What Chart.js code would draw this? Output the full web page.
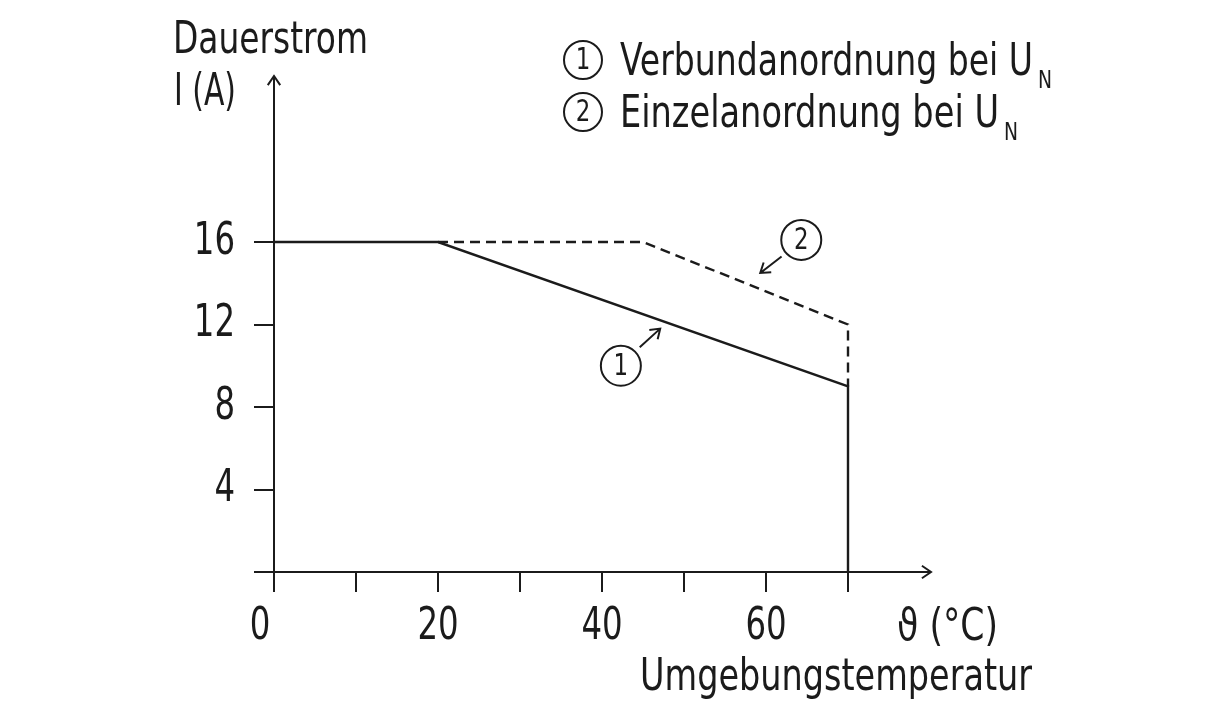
<!DOCTYPE html>
<html>
<head>
<meta charset="utf-8">
<script src="https://cdn.jsdelivr.net/npm/chart.js@4/dist/chart.umd.min.js"></script>
<style>
  html, body { margin: 0; padding: 0; background: #fff; }
  #wrap { width: 1214px; height: 720px; }
</style>
</head>
<body>
<div id="wrap"><canvas id="kennlinie" width="1214" height="720"></canvas></div>
<script>
/* Dauerstrom über Umgebungstemperatur */
const temp_verbund = [0, 20, 70, 70];
const strom_verbund = [16, 16, 9, 0];

const temp_einzel = [20, 45, 70, 70];
const strom_einzel = [16, 16, 12, 9];

const ticks_x = [0, 10, 20, 30, 40, 50, 60, 70];
const labels_x = ['0', '', '20', '', '40', '', '60', ''];
const ticks_y = [0, 4, 8, 12, 16];
const labels_y = ['', '4', '8', '12', '16'];

const legende = ['Verbundanordnung bei U', 'Einzelanordnung bei U'];

const SCHRIFT = '"DejaVu Sans Condensed", "DejaVu Sans", sans-serif';
const TINTE = '#1b1b1b';

function punkte(xs, ys) {
  return xs.map((x, i) => ({ x: x, y: ys[i] }));
}

// Text schmaler setzen (die Vorlage nutzt eine Condensed-Schrift)
function text(ctx, str, x, y, breite) {
  ctx.fillText(str, x, y, breite);
}

function kreisZahl(ctx, cx, cy, r, zahl) {
  ctx.beginPath();
  ctx.arc(cx, cy, r, 0, Math.PI * 2);
  ctx.lineWidth = 2;
  ctx.strokeStyle = TINTE;
  ctx.stroke();
  ctx.font = '30px ' + SCHRIFT;
  ctx.textAlign = 'center';
  ctx.textBaseline = 'middle';
  ctx.fillStyle = TINTE;
  const w = ctx.measureText(zahl).width;
  ctx.fillText(zahl, cx, cy + 1, w * 0.85);
}

function pfeil(ctx, x1, y1, x2, y2) {
  const w = Math.atan2(y2 - y1, x2 - x1);
  const l = 11;
  ctx.beginPath();
  ctx.moveTo(x1, y1);
  ctx.lineTo(x2, y2);
  ctx.moveTo(x2 - l * Math.cos(w - 0.6), y2 - l * Math.sin(w - 0.6));
  ctx.lineTo(x2, y2);
  ctx.lineTo(x2 - l * Math.cos(w + 0.6), y2 - l * Math.sin(w + 0.6));
  ctx.lineWidth = 2;
  ctx.strokeStyle = TINTE;
  ctx.stroke();
}

/* Tick-Beschriftung etwas schmaler, "0" leicht nach links wie in der Vorlage */
const schmal = {
  id: 'schmal',
  beforeDraw(chart) {
    const ctx = chart.ctx;
    ['x', 'y'].forEach(id => {
      const s = chart.scales[id];
      s.getLabelItems(chart.chartArea).forEach(item => {
        if (item.options._schmal) return;
        ctx.font = item.font.string;
        const w = ctx.measureText(String(item.label)).width;
        item.options.maxWidth = Math.max(1, w * 0.8);
        if (id === 'x' && item.label === '0') item.options.translation[0] -= 14;
        item.options._schmal = true;
      });
    });
  }
};

const beschriftung = {
  id: 'beschriftung',
  afterDraw(chart) {
    const ctx = chart.ctx;
    const xs = chart.scales.x, ys = chart.scales.y;
    const a = chart.chartArea;
    ctx.save();

    // Achsenpfeile
    pfeil(ctx, a.right - 5, a.bottom, a.right + 1, a.bottom);
    pfeil(ctx, a.left, a.top + 5, a.left, a.top - 1);

    ctx.fillStyle = TINTE;
    ctx.textAlign = 'left';
    ctx.textBaseline = 'alphabetic';
    ctx.font = '45px ' + SCHRIFT;
    text(ctx, 'Dauerstrom', 173, 53, 195);
    text(ctx, 'I (A)', 174, 105, 62);
    text(ctx, '\u03D1 (\u00B0C)', 897, 640, 101);
    text(ctx, 'Umgebungstemperatur', 640, 690, 392);

    // Legende
    const zeilen = [75, 127];
    const breiten = [413, 379];
    legende.forEach((txt, i) => {
      kreisZahl(ctx, 583, zeilen[i] - 15, 19, String(i + 1));
      ctx.font = '45px ' + SCHRIFT;
      ctx.textAlign = 'left';
      ctx.textBaseline = 'alphabetic';
      text(ctx, txt, 620, zeilen[i], breiten[i]);
      ctx.font = '24px ' + SCHRIFT;
      text(ctx, 'N', 620 + breiten[i] + 5, zeilen[i] + 13, 14);
    });

    // Kurvenmarken
    kreisZahl(ctx, xs.getPixelForValue(42.3), ys.getPixelForValue(10.0), 20, '1');
    pfeil(ctx, xs.getPixelForValue(44.6), ys.getPixelForValue(10.9),
      xs.getPixelForValue(47.1), ys.getPixelForValue(11.8));
    kreisZahl(ctx, xs.getPixelForValue(64.3), ys.getPixelForValue(16.1), 20, '2');
    pfeil(ctx, xs.getPixelForValue(61.9), ys.getPixelForValue(15.3),
      xs.getPixelForValue(59.3), ys.getPixelForValue(14.5));

    ctx.restore();
  }
};

const config_kennlinie = {
  type: 'line',
  data: {
    datasets: [
      {
        label: legende[0],
        data: punkte(temp_verbund, strom_verbund),
        borderColor: TINTE,
        borderWidth: 2.4,
        pointRadius: 0,
        tension: 0,
        clip: false
      },
      {
        label: legende[1],
        data: punkte(temp_einzel, strom_einzel),
        borderColor: TINTE,
        borderWidth: 2.4,
        borderDash: [10, 6],
        pointRadius: 0,
        tension: 0,
        clip: false
      }
    ]
  },
  options: {
    responsive: false,
    animation: false,
    events: [],
    layout: { padding: { left: 0, right: 284, top: 77, bottom: 0 } },
    plugins: { legend: { display: false }, tooltip: { enabled: false } },
    scales: {
      x: {
        type: 'linear',
        min: 0,
        max: 80,
        afterFit(s) { s.height = 148; },
        afterBuildTicks(s) { s.ticks = ticks_x.map(v => ({ value: v })); },
        ticks: {
          autoSkip: false,
          maxRotation: 0,
          padding: 8,
          color: TINTE,
          font: { family: SCHRIFT, size: 45 },
          callback: (v) => labels_x[ticks_x.indexOf(v)] ?? ''
        },
        grid: { drawOnChartArea: false, drawTicks: true, tickLength: 20, color: TINTE, lineWidth: 2 },
        border: { display: true, color: TINTE, width: 2 }
      },
      y: {
        type: 'linear',
        min: 0,
        max: 24,
        afterFit(s) { s.width = 274; },
        afterBuildTicks(s) { s.ticks = ticks_y.map(v => ({ value: v })); },
        ticks: {
          autoSkip: false,
          padding: 19,
          color: TINTE,
          font: { family: SCHRIFT, size: 45 },
          callback: (v) => labels_y[ticks_y.indexOf(v)] ?? ''
        },
        grid: { drawOnChartArea: false, drawTicks: true, tickLength: 20, color: TINTE, lineWidth: 2 },
        border: { display: true, color: TINTE, width: 2 }
      }
    }
  },
  plugins: [schmal, beschriftung]
};

const grafico_kennlinie = new Chart(
  document.getElementById('kennlinie'),
  config_kennlinie
);
</script>
</body>
</html>
